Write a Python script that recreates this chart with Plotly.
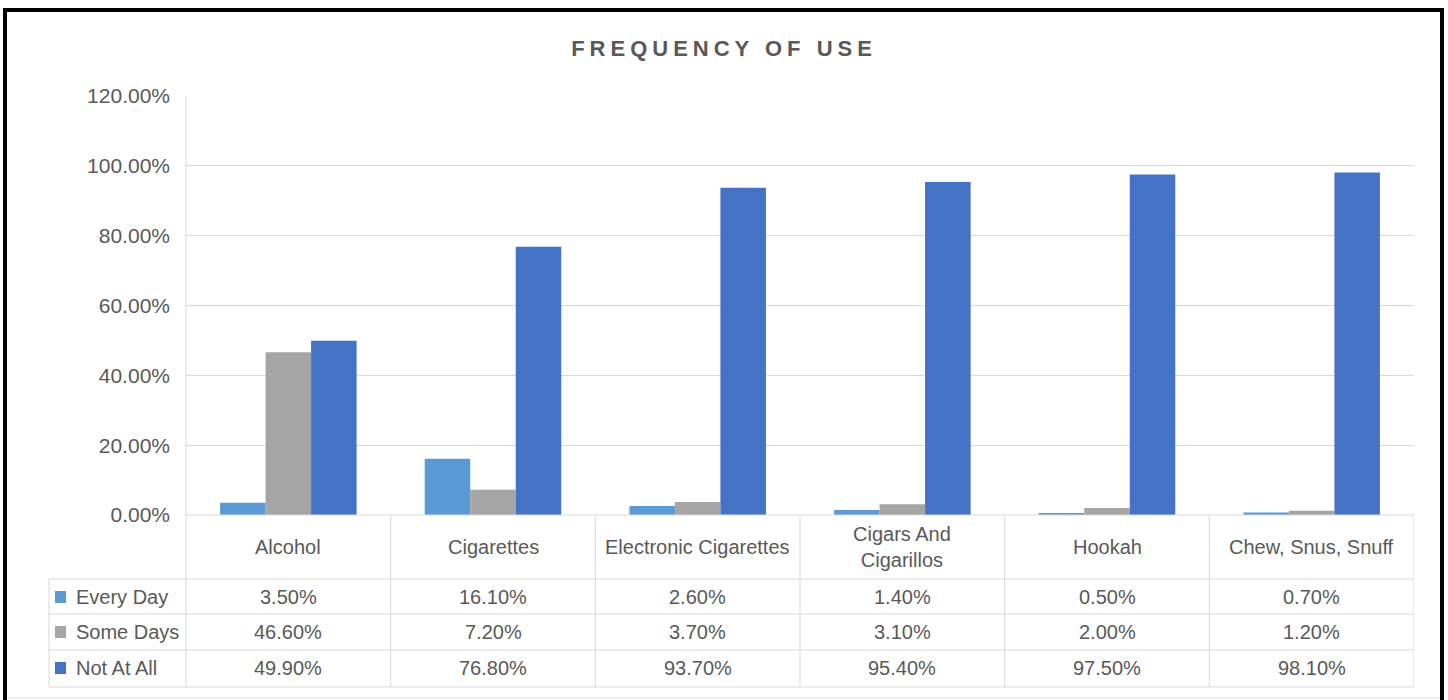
import plotly.graph_objects as go

categories = ["Alcohol", "Cigarettes", "Electronic Cigarettes", "Cigars And<br>Cigarillos", "Hookah", "Chew, Snus, Snuff"]
series_names = ["Every Day", "Some Days", "Not At All"]
every_day = [3.5, 16.1, 2.6, 1.4, 0.5, 0.7]
some_days = [46.6, 7.2, 3.7, 3.1, 2.0, 1.2]
not_at_all = [49.9, 76.8, 93.7, 95.4, 97.5, 98.1]
series_values = [every_day, some_days, not_at_all]
colors = ["#5B9BD5", "#A5A5A5", "#4472C4"]
y_ticks = [0, 20, 40, 60, 80, 100, 120]

W, H = 1448, 700
L, R, T, B = 186, 1414, 96, 515
TXT = "#595959"
GRID = "#D9D9D9"
FONT = "Liberation Sans, Arial, sans-serif"
FS = 20


def X(px):
    return (px - L) / (R - L)


def Y(py):
    return (B - py) / (B - T)


x_idx = list(range(len(categories)))
fig = go.Figure()
for name, vals, col in zip(series_names, series_values, colors):
    fig.add_trace(go.Bar(x=x_idx, y=vals, name=name, marker=dict(color=col, line=dict(width=0))))

shapes = []
ann = []

# outer black border
shapes.append(dict(type="rect", xref="paper", yref="paper", x0=X(5), x1=X(1442), y0=Y(10), y1=Y(720),
                   line=dict(color="black", width=4), layer="above"))
shapes.append(dict(type="line", xref="paper", yref="paper", x0=X(8), x1=X(1440), y0=Y(698), y1=Y(698),
                   line=dict(color="#E0E0E0", width=1)))

# plot-area left line
shapes.append(dict(type="line", xref="paper", yref="paper", x0=0, x1=0, y0=Y(T), y1=Y(687),
                   line=dict(color=GRID, width=1)))
# zero line / table top
shapes.append(dict(type="line", xref="paper", yref="paper", x0=0, x1=1, y0=0, y1=0,
                   line=dict(color=GRID, width=1)))
# table horizontal lines
for py in [579, 614, 650, 687]:
    shapes.append(dict(type="line", xref="paper", yref="paper", x0=X(49), x1=1, y0=Y(py), y1=Y(py),
                       line=dict(color=GRID, width=1)))
# table vertical lines at category boundaries
for i in range(len(categories)):
    shapes.append(dict(type="line", xref="x", yref="paper", x0=i + 0.5, x1=i + 0.5, y0=0, y1=Y(687),
                       line=dict(color=GRID, width=1)))
shapes.append(dict(type="line", xref="paper", yref="paper", x0=X(49), x1=X(49), y0=Y(579), y1=Y(687),
                   line=dict(color=GRID, width=1)))

# category labels
for i, c in enumerate(categories):
    ann.append(dict(x=i, xref="x", y=Y(547), yref="paper", text=c, showarrow=False,
                    font=dict(size=FS, color=TXT, family=FONT), xanchor="center", yanchor="middle"))

row_y = [597, 632, 668]
for r, (name, vals, col) in enumerate(zip(series_names, series_values, colors)):
    cy = row_y[r]
    shapes.append(dict(type="rect", xref="paper", yref="paper", x0=X(55), x1=X(66), y0=Y(cy - 6), y1=Y(cy + 6),
                       fillcolor=col, line=dict(width=0)))
    ann.append(dict(x=X(74), xref="paper", y=Y(cy), yref="paper", text=name, showarrow=False,
                    font=dict(size=FS, color=TXT, family=FONT), xanchor="left", yanchor="middle"))
    for i, v in enumerate(vals):
        ann.append(dict(x=i, xref="x", y=Y(cy), yref="paper", text=f"{v:.2f}%", showarrow=False,
                        font=dict(size=FS, color=TXT, family=FONT), xanchor="center", yanchor="middle"))

fig.update_layout(
    width=W, height=H,
    margin=dict(l=L, r=W - R, t=T, b=H - B, pad=0),
    paper_bgcolor="white", plot_bgcolor="white",
    barmode="group", bargap=0.333, bargroupgap=0,
    showlegend=False,
    title=dict(text='<span style="letter-spacing:5px">FREQUENCY OF USE</span>', x=0.5, xref="container",
               y=1 - 48 / H, yref="container", xanchor="center", yanchor="middle",
               font=dict(size=22, color=TXT, family=FONT, weight="bold")),
    xaxis=dict(range=[-0.5, len(categories) - 0.5], showticklabels=False, showgrid=False, zeroline=False,
               showline=False, ticks=""),
    yaxis=dict(range=[0, 120], tickvals=y_ticks, ticktext=[f"{v:.2f}%" for v in y_ticks],
               showgrid=True, gridcolor=GRID, gridwidth=1, zeroline=False, showline=False,
               tickfont=dict(size=21, color=TXT, family=FONT), ticks="", ticklabelstandoff=15),
    shapes=shapes, annotations=ann,
)

fig.write_html("out.html")
